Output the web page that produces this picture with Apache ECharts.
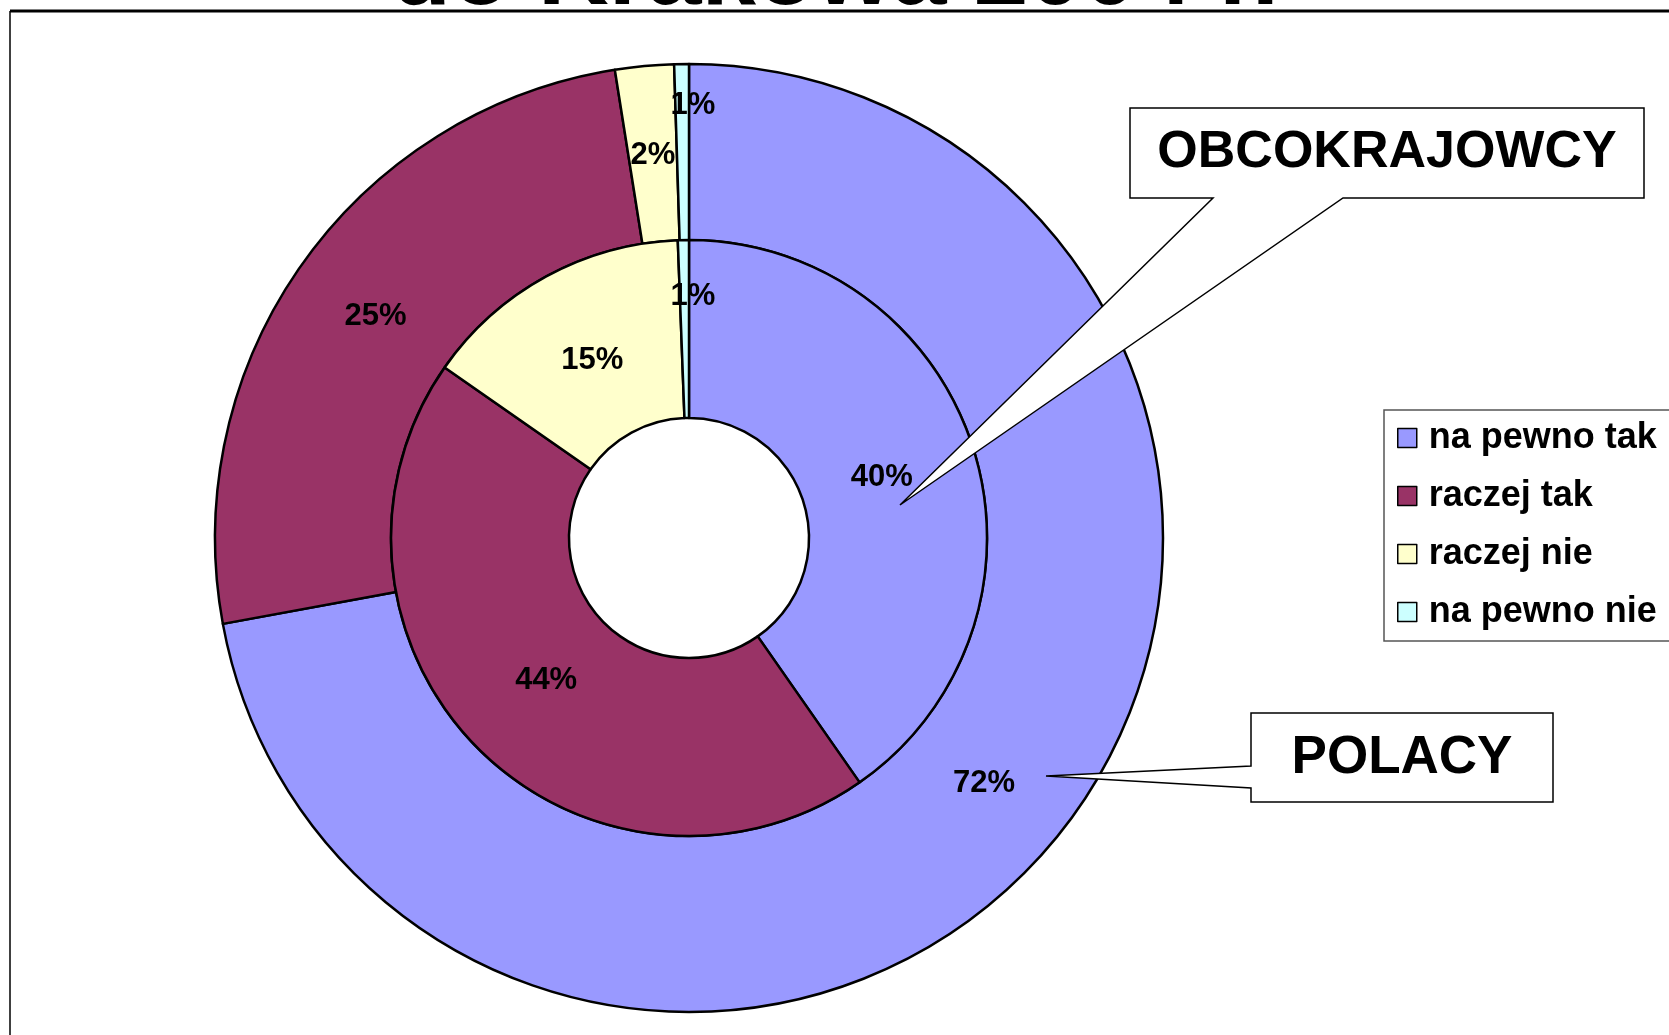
<!DOCTYPE html>
<html>
<head>
<meta charset="utf-8">
<script src="https://cdn.jsdelivr.net/npm/echarts@6/dist/echarts.min.js"></script>
<style>
html,body{margin:0;padding:0;background:#fff;}
#chart{width:1669px;height:1035px;}
</style>
</head>
<body>
<div id="chart"></div>
<script>
const categories = ['na pewno tak', 'raczej tak', 'raczej nie', 'na pewno nie'];
const polacyValues = [72.1, 25.4, 2.0, 0.5];
const obcokrajowcyValues = [40.3, 44.4, 14.7, 0.6];
const sliceColors = ['#9999FF', '#993366', '#FFFFCC', '#CCFFFF'];
const titleText = 'do Krakowa 2004 r.';
const outerCallout = 'POLACY';
const innerCallout = 'OBCOKRAJOWCY';

const FONT = '"Liberation Sans", Arial, sans-serif';
const center = [689, 538];

function buildData(values) {
  return values.map(function (v, i) {
    return { name: categories[i], value: v, itemStyle: { color: sliceColors[i] } };
  });
}

const labelCfg = {
  show: true,
  position: 'inside',
  color: '#000',
  fontFamily: FONT,
  fontWeight: 'bold',
  fontSize: 31,
  formatter: function (p) { return Math.round(p.value) + '%'; }
};

// labels sit slightly nearer the centre than the ring middle; the tiny
// slice's label is pushed outwards (as in the original)
function placeLabels(inward, tinyDx, tinyDy) {
  return function (p) {
    if (p.dataIndex === 3) return { dx: tinyDx, dy: tinyDy, hideOverlap: false };
    const r = p.labelRect;
    const vx = r.x + r.width / 2 - center[0];
    const vy = r.y + r.height / 2 - center[1];
    const len = Math.sqrt(vx * vx + vy * vy) || 1;
    return { dx: -vx / len * inward, dy: -vy / len * inward, hideOverlap: false };
  };
}

const chart = echarts.init(document.getElementById('chart'), null, { renderer: 'canvas' });
chart.setOption({
  animation: false,
  backgroundColor: '#fff',
  color: sliceColors,
  legend: {
    orient: 'vertical',
    left: 1397,
    top: 420,
    padding: 0,
    itemWidth: 19,
    itemHeight: 19,
    itemGap: 22,
    icon: 'rect',
    selectedMode: false,
    data: categories,
    itemStyle: { borderColor: '#000', borderWidth: 1.5 },
    textStyle: {
      color: '#000',
      fontFamily: FONT,
      fontWeight: 'bold',
      fontSize: 36,
      lineHeight: 36,
      padding: [0, 0, 0, 7]
    }
  },
  series: [
    {
      name: outerCallout,
      type: 'pie',
      center: center,
      radius: [298, 474],
      startAngle: 90,
      clockwise: true,
      silent: true,
      itemStyle: { borderColor: '#000', borderWidth: 2.5 },
      label: labelCfg,
      labelLine: { show: false },
      labelLayout: placeLabels(5, 10, -44),
      data: buildData(polacyValues)
    },
    {
      name: innerCallout,
      type: 'pie',
      center: center,
      radius: [120, 298],
      startAngle: 90,
      clockwise: true,
      silent: true,
      itemStyle: { borderColor: '#000', borderWidth: 2.5 },
      label: labelCfg,
      labelLine: { show: false },
      labelLayout: placeLabels(10, 8, -30),
      data: buildData(obcokrajowcyValues)
    }
  ],
  graphic: [
    { type: 'line', shape: { x1: 10, y1: 11, x2: 1700, y2: 11 }, style: { stroke: '#000', lineWidth: 3 }, z: 10 },
    { type: 'line', shape: { x1: 10, y1: 11, x2: 10, y2: 1100 }, style: { stroke: '#000', lineWidth: 1.5 }, z: 10 },
    {
      type: 'text', x: 835, y: -23, z: 10,
      style: { text: titleText, fill: '#000', font: 'bold 98px ' + FONT, textAlign: 'center', textVerticalAlign: 'middle' }
    },
    { type: 'rect', shape: { x: 1384, y: 410, width: 400, height: 231 }, style: { fill: 'none', stroke: '#555', lineWidth: 1.5 }, z: 5 },
    {
      type: 'polygon', z: 20,
      shape: { points: [[1130, 108], [1644, 108], [1644, 198], [1343, 198], [900, 505], [1213, 198], [1130, 198]] },
      style: { fill: '#fff', stroke: '#000', lineWidth: 1.5 }
    },
    {
      type: 'text', x: 1387, y: 153, z: 21,
      style: { text: innerCallout, fill: '#000', font: 'bold 52px ' + FONT, textAlign: 'center', textVerticalAlign: 'middle' }
    },
    {
      type: 'polygon', z: 20,
      shape: { points: [[1251, 713], [1553, 713], [1553, 802], [1251, 802], [1251, 788], [1046, 776], [1251, 766]] },
      style: { fill: '#fff', stroke: '#000', lineWidth: 1.5 }
    },
    {
      type: 'text', x: 1402, y: 758, z: 21,
      style: { text: outerCallout, fill: '#000', font: 'bold 53px ' + FONT, textAlign: 'center', textVerticalAlign: 'middle' }
    }
  ]
});
</script>
</body>
</html>
